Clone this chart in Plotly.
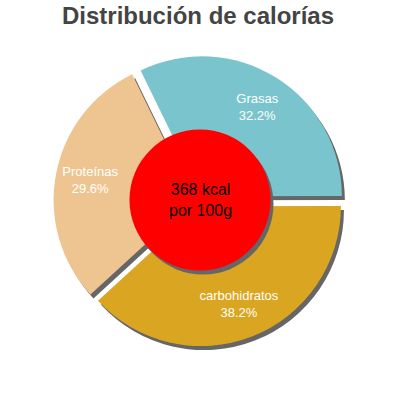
import plotly.graph_objects as go

# data
nutrients = ['Grasas', 'carbohidratos', 'Proteínas']
shares = [32.2, 38.2, 29.6]
colors = ['#7AC5CD', '#DAA520', '#EEC591']
energy_kcal = 368
title = 'Distribución de calorías'

shadow = '#666666'
pull = 0.04

pie_x = [0.13375, 0.86125]
pie_y = [0.13375, 0.86125]
disc_x = [0.32375, 0.67625]
disc_y = [0.32375, 0.67625]
dx, dy = 0.0075, -0.01   # shadow offset
# a wider, see-through ring that only carries the labels, so they sit
# on each slice's middle angle
label_x = [0.0937, 0.9013]
label_y = [0.0937, 0.9013]

fig = go.Figure()

# shadow of the exploded pie, a few pixels down-right
fig.add_trace(go.Pie(labels=nutrients, values=shares, sort=False,
                     direction='clockwise', rotation=-26, pull=pull,
                     marker=dict(colors=[shadow] * len(nutrients), line=dict(width=0)),
                     textinfo='none', hoverinfo='skip',
                     domain=dict(x=[v + dx for v in pie_x], y=[v + dy for v in pie_y])))

# the coloured pie
fig.add_trace(go.Pie(labels=nutrients, values=shares, sort=False,
                     direction='clockwise', rotation=-26, pull=pull,
                     marker=dict(colors=colors, line=dict(width=0)),
                     textinfo='none',
                     domain=dict(x=pie_x, y=pie_y)))

# labels
fig.add_trace(go.Pie(labels=nutrients, values=shares, sort=False,
                     direction='clockwise', rotation=-26, pull=0.035, hole=0.346,
                     marker=dict(colors=['rgba(0,0,0,0)'] * len(nutrients), line=dict(width=0)),
                     texttemplate='%{label}<br>%{percent:.1%}',
                     textposition='inside', insidetextorientation='horizontal',
                     textfont=dict(family='Liberation Sans, Arial', size=13, color='white'),
                     hoverinfo='skip',
                     domain=dict(x=label_x, y=label_y)))

# red centre disc and its shadow
fig.add_trace(go.Pie(values=[1], marker=dict(colors=[shadow], line=dict(width=0)),
                     textinfo='none', hoverinfo='skip',
                     domain=dict(x=[v + dx for v in disc_x], y=[v + dy for v in disc_y])))
fig.add_trace(go.Pie(values=[1], marker=dict(colors=['#FF0000'], line=dict(width=0)),
                     textinfo='none', hoverinfo='skip',
                     domain=dict(x=disc_x, y=disc_y)))

fig.add_annotation(x=0.5, y=0.5, xref='paper', yref='paper',
                   showarrow=False, text=f'{energy_kcal} kcal<br>por 100g',
                   font=dict(family='Liberation Sans, Arial', size=16, color='black'))

fig.update_layout(
    width=400, height=400,
    margin=dict(l=0, r=0, t=0, b=0),
    showlegend=False,
    paper_bgcolor='white',
    title=dict(text=f'<b>{title}</b>', x=0.495, xanchor='center', y=0.982, yanchor='top',
               font=dict(family='Liberation Sans, Arial', size=24, color='#444444')),
)

# drop the default 8px body margin so the 400px figure fills the window
fig.write_html('out.html', config={'displayModeBar': False},
               post_script="document.body.style.margin='0';")
